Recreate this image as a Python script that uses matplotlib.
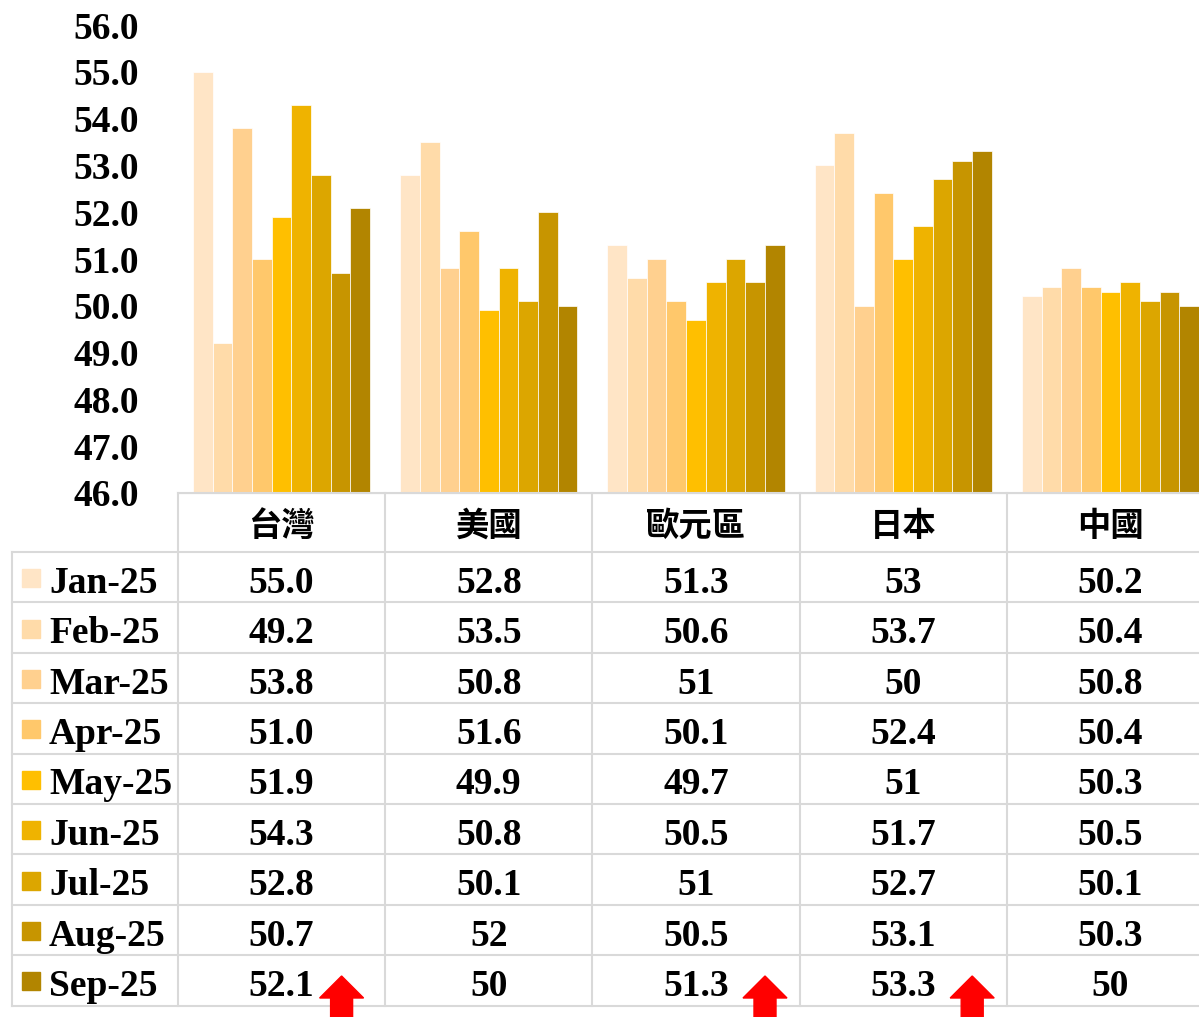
import matplotlib.pyplot as plt
import numpy as np
from matplotlib.patches import Polygon, Rectangle

# data
countries = ['台灣', '美國', '歐元區', '日本', '中國']
months = ['Jan-25', 'Feb-25', 'Mar-25', 'Apr-25', 'May-25', 'Jun-25', 'Jul-25', 'Aug-25', 'Sep-25']
taiwan = ['55.0', '49.2', '53.8', '51.0', '51.9', '54.3', '52.8', '50.7', '52.1']
usa = ['52.8', '53.5', '50.8', '51.6', '49.9', '50.8', '50.1', '52', '50']
euro = ['51.3', '50.6', '51', '50.1', '49.7', '50.5', '51', '50.5', '51.3']
japan = ['53', '53.7', '50', '52.4', '51', '51.7', '52.7', '53.1', '53.3']
china = ['50.2', '50.4', '50.8', '50.4', '50.3', '50.5', '50.1', '50.3', '50']
up_arrows = [0, 2, 3]  # columns with a red arrow in the last row
colors = ['#FFE5C6', '#FFDBA9', '#FFD08F', '#FFC86B', '#FFBF00',
          '#EFB300', '#DCA600', '#C79500', '#B28500']

table = [taiwan, usa, euro, japan, china]

W, H = 1199, 1017
fig = plt.figure(figsize=(W / 100, H / 100), dpi=100)

# layout in pixels
ax_left, ax_top, ax_bot = 178, 25, 493
col_w = 207.2
n_cols = len(countries)
ax = fig.add_axes([ax_left / W, 1 - ax_bot / H, n_cols * col_w / W, (ax_bot - ax_top) / H])

n = len(months)
bw = 0.855 / n
for j in range(n):
    vals = [float(t[j]) for t in table]
    x = np.arange(n_cols) + 0.5 - 0.855 / 2 + (j + 0.5) * bw
    ax.bar(x, vals, width=bw, color=colors[j], edgecolor='white', linewidth=0.5)

ax.set_xlim(0, n_cols)
ax.set_ylim(46, 56)
ax.set_yticks(np.arange(46, 56.1, 1))
ax.set_yticklabels([f'{v:.1f}' for v in np.arange(46, 56.1, 1)],
                   fontfamily='Liberation Serif', fontweight='bold', fontsize=27)
ax.tick_params(axis='y', length=0, pad=28)
ax.set_xticks([])
for s in ['top', 'right', 'left']:
    ax.spines[s].set_visible(False)
ax.spines['bottom'].set_color('#D9D9D9')

# data table drawn on an overlay in pixel units
ov = fig.add_axes([0, 0, 1, 1])
ov.set_xlim(0, W)
ov.set_ylim(H, 0)
ov.axis('off')

grid = '#D9D9D9'
tbl_left = 12
head_bot = 552
row_h = 50.4
right = ax_left + n_cols * col_w
rows_bot = head_bot + n * row_h

ov.plot([ax_left, right], [ax_bot, ax_bot], color=grid, lw=1.5)
for k in range(n + 1):
    y = head_bot + k * row_h
    ov.plot([tbl_left, right], [y, y], color=grid, lw=1.5)
ov.plot([tbl_left, tbl_left], [head_bot, rows_bot], color=grid, lw=1.5)
for c in range(n_cols + 1):
    x = ax_left + c * col_w
    ov.plot([x, x], [ax_bot, rows_bot], color=grid, lw=1.5)

for c, name in enumerate(countries):
    cx = ax_left + (c + 0.5) * col_w
    ov.text(cx, (ax_bot + head_bot) / 2 + 4, name, ha='center', va='center',
            fontsize=24, fontweight='bold',
            family=['Noto Sans CJK TC', 'DejaVu Sans'])
    for j in range(n):
        cy = head_bot + (j + 0.5) * row_h
        ov.text(cx, cy + 6, table[c][j], ha='center', va='center',
                fontfamily='Liberation Serif', fontweight='bold', fontsize=27)

for j, m in enumerate(months):
    cy = head_bot + (j + 0.5) * row_h
    ov.add_patch(Rectangle((22, cy - 8), 18, 18, color=colors[j]))
    ov.text(49, cy + 6, m, ha='left', va='center',
            fontfamily='Liberation Serif', fontweight='bold', fontsize=27)

# red up arrows
for c in up_arrows:
    ax_ = ax_left + (c + 0.5) * col_w + (60 if c == 0 else 69)
    tip = 976
    pts = [(ax_, tip), (ax_ + 22, tip + 22), (ax_ + 11, tip + 22), (ax_ + 11, H + 5),
           (ax_ - 11, H + 5), (ax_ - 11, tip + 22), (ax_ - 22, tip + 22)]
    ov.add_patch(Polygon(pts, closed=True, color='#FF0000', clip_on=False, zorder=5))

fig.savefig('out.png', dpi=100)
